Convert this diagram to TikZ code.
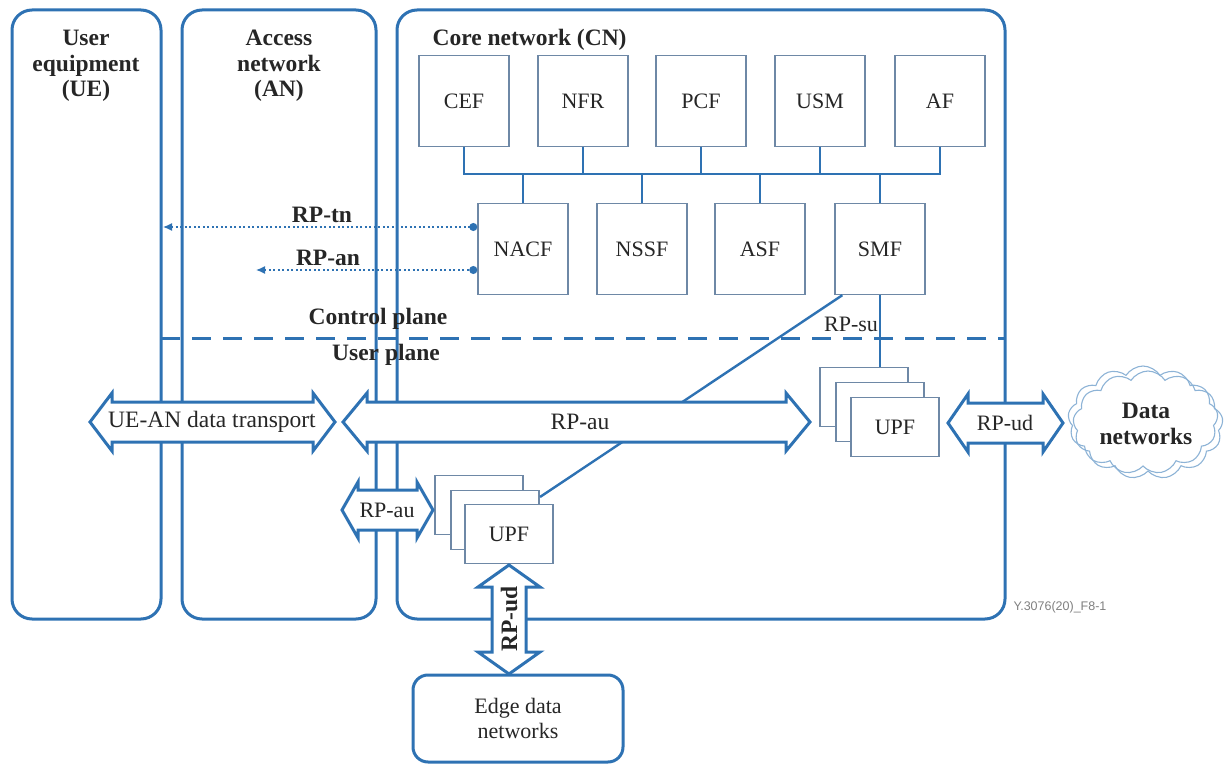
\documentclass[tikz,border=0pt]{standalone}
\usepackage{fontspec}
\setmainfont{Liberation Serif}
\setsansfont{Liberation Sans}
\usetikzlibrary{shapes.symbols,arrows.meta,calc}

\definecolor{frameblue}{HTML}{2E72B3}
\definecolor{boxgray}{HTML}{6E88A6}
\definecolor{cloudblue}{HTML}{8DB3D6}
\definecolor{inktext}{HTML}{262626}

% fat double-headed arrow, horizontal: xl, xr, y centre, half shaft, half head, head length
\newcommand\FatH[6]{%
  \draw[fat] (#1,#3) -- ({#1+#6},{#3-#5}) -- ({#1+#6},{#3-#4}) -- ({#2-#6},{#3-#4})
    -- ({#2-#6},{#3-#5}) -- (#2,#3) -- ({#2-#6},{#3+#5}) -- ({#2-#6},{#3+#4})
    -- ({#1+#6},{#3+#4}) -- ({#1+#6},{#3+#5}) -- cycle;}
% fat double-headed arrow, vertical: x centre, y top, y bottom, half shaft, half head, head length
\newcommand\FatV[6]{%
  \draw[fat] (#1,#2) -- ({#1+#5},{#2+#6}) -- ({#1+#4},{#2+#6}) -- ({#1+#4},{#3-#6})
    -- ({#1+#5},{#3-#6}) -- (#1,#3) -- ({#1-#5},{#3-#6}) -- ({#1-#4},{#3-#6})
    -- ({#1-#4},{#2+#6}) -- ({#1-#5},{#2+#6}) -- cycle;}

\begin{document}
\begin{tikzpicture}[x=1pt,y=-1pt,
  font=\fontsize{22}{25.5}\selectfont, text=inktext,
  zonebox/.style={draw=frameblue, line width=3pt, rounded corners=20pt, inner sep=0pt},
  fnbox/.style={draw=boxgray, line width=1.4pt, fill=white, minimum width=90pt,
    minimum height=91pt, inner sep=0pt},
  upfbox/.style={draw=boxgray, line width=1.2pt, fill=white, minimum width=88pt,
    minimum height=59pt, inner sep=0pt},
  bus/.style={draw=frameblue, line width=2.8pt},
  link/.style={draw=frameblue, line width=2.4pt},
  fat/.style={draw=frameblue, line width=3pt, fill=white, line join=miter},
  sig/.style={draw=frameblue, line width=1.4pt, dash pattern=on 2pt off 2.5pt},
  plane/.style={draw=frameblue, line width=3pt, dash pattern=on 19pt off 12pt},
  arrtext/.style={font=\fontsize{23.5}{26}\selectfont},
  title/.style={font=\bfseries\fontsize{23.5}{25.5}\selectfont, align=center},
  lbl/.style={font=\bfseries\fontsize{23.5}{26}\selectfont}]

\useasboundingbox (0,0) rectangle (1227,765);

% domains
\node[zonebox, minimum width=149pt, minimum height=609pt] (ue) at (86.5,314.5) {};
\node[zonebox, minimum width=194pt, minimum height=609pt] (an) at (279,314.5) {};
\node[zonebox, minimum width=608pt, minimum height=609pt] (cn) at (701,314.5) {};
\node[title] at (86,66) {User\\equipment\\(UE)};
\node[title] at (279,66) {Access\\network\\(AN)};
\node[lbl, anchor=west] at (429,40) {Core network (CN)};

% control / user plane border
\coordinate (pl) at (161,338);
\coordinate (pr) at (1005,338);
\draw[plane] (pl) -- (pr);
\node[lbl] at (378,319) {Control plane};
\node[lbl] at (386,355) {User plane};

% control-plane functions
\node[fnbox] (cef) at (464,101) {CEF};
\node[fnbox] (nfr) at (583,101) {NFR};
\node[fnbox] (pcf) at (701,101) {PCF};
\node[fnbox] (usm) at (820,101) {USM};
\node[fnbox] (af)  at (940,101) {AF};
\node[fnbox] (nacf) at (523,249) {NACF};
\node[fnbox] (nssf) at (642,249) {NSSF};
\node[fnbox] (asf)  at (760,249) {ASF};
\node[fnbox] (smf)  at (880,249) {SMF};

% service bus
\coordinate (bus) at (0,174);
\draw[bus] (cef.south) -- (cef.south |- bus) -- (af.south |- bus) -- (af.south);
\foreach \n in {nfr,pcf,usm} \draw[bus] (\n.south) -- (\n.south |- bus);
\foreach \n in {nacf,nssf,asf,smf} \draw[bus] (\n.north) -- (\n.north |- bus);

% reference points towards UE and AN
\coordinate (tnL) at (163,227);
\coordinate (anL) at (256,270);
\draw[sig, {Latex[length=9pt,width=8pt]}-{Circle[length=8pt]}]
  (tnL) -- (tnL -| nacf.west);
\draw[sig, {Latex[length=9pt,width=8pt]}-{Circle[length=8pt]}]
  (anL) -- (anL -| nacf.west);
\node[lbl] at (322,215) {RP-tn};
\node[lbl] at (328,258) {RP-an};

% user plane functions (stacks)
\node[upfbox] (upfR3) at (864,397) {};
\node[upfbox] (upfR2) at (880,412) {};
\node[upfbox] (upfR)  at (895,427) {UPF};
\node[upfbox] (upfL3) at (479,505) {};
\node[upfbox] (upfL2) at (495,520) {};
\node[upfbox] (upfL)  at (509,534) {UPF};

% SMF to UPF links
\coordinate (diagEnd) at (540,497);
\draw[link] ($(smf.south west)+(8,0)$) -- (diagEnd);
\draw[link] (smf.south) -- (smf.south |- upfR3.north);
\node at (851,324) {RP-su};

% user-plane transport
\FatH{90}{335}{422}{20}{29}{22}
\node[arrtext] at (212,422) {UE-AN data transport};
\FatH{343}{810}{422}{20}{29}{24}
\node[arrtext] at (580,422) {RP-au};
\FatH{948}{1063}{423}{20}{29}{20}
\node at (1005,423) {RP-ud};
\FatH{342}{433}{510}{20}{28}{16}
\node at (387,510) {RP-au};

% edge data networks
\node[zonebox, rounded corners=15pt, minimum width=210pt, minimum height=87pt,
  align=center] (edge) at (518,718.5) {Edge data\\networks};
\FatV{509}{565}{674}{17}{31}{22}
\node[lbl, rotate=90] at (509,619) {RP-ud};

% data networks cloud
\node[cloud, cloud puffs=13, cloud puff arc=115, aspect=1.35, draw=cloudblue,
  line width=1.1pt, fill=white, minimum width=150pt, minimum height=108pt] at (1148,425) {};
\node[cloud, cloud puffs=13, cloud puff arc=115, aspect=1.35, draw=cloudblue,
  line width=1.1pt, minimum width=150pt, minimum height=108pt] at (1143,420) {};
\node[lbl, align=center] (dn) at (1146,424) {Data\\networks};

\node[anchor=west, font=\sffamily\fontsize{12.5}{14}\selectfont, text=gray] at (1010,607) {Y.3076(20)\_F8-1};
\end{tikzpicture}
\end{document}
